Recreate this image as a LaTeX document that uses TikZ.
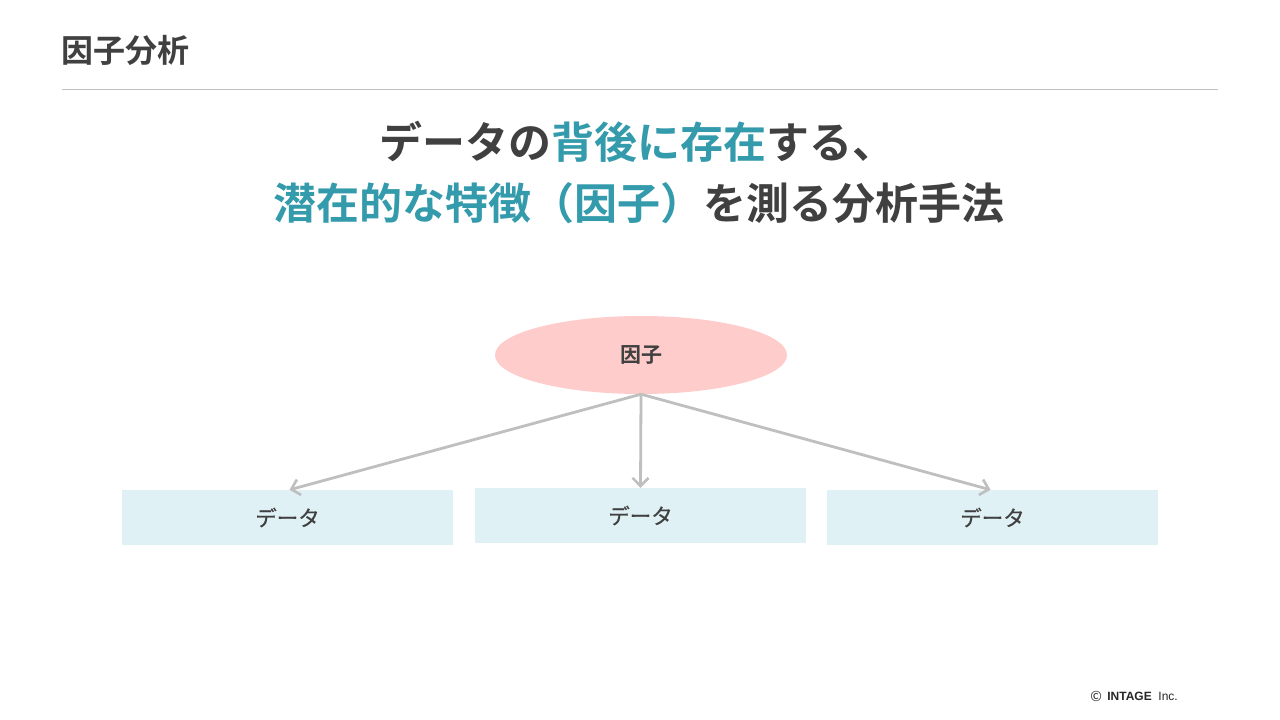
\documentclass[tikz,border=0pt]{standalone}
\usepackage{fontspec}
\setmainfont{Liberation Sans}
\newfontfamily\cjk{Noto Sans CJK JP}[BoldFont={Noto Sans CJK JP Bold}]
\newfontfamily\cjkmed{Noto Sans CJK JP}[FakeBold=0.6]
\usetikzlibrary{shapes.geometric,arrows.meta}
\definecolor{darktext}{HTML}{404040}
\definecolor{teal}{HTML}{339BAB}
\definecolor{rulegray}{HTML}{BFBFBF}
\definecolor{pinkfill}{HTML}{FFCCCC}
\definecolor{bluefill}{HTML}{DFF1F5}
\tikzset{
  databox/.style={rectangle, fill=bluefill, minimum width=331pt, minimum height=55pt, inner sep=0pt, font=\cjkmed\fontsize{21.5}{26}\selectfont, text=darktext},
  factor/.style={ellipse, fill=pinkfill, minimum width=292pt, minimum height=78pt, inner sep=0pt, font=\cjk\bfseries\fontsize{21}{25}\selectfont, text=darktext},
  conn/.style={draw=rulegray, line width=2.8pt, -{Straight Barb[length=8pt,width=16pt,line width=2.6pt]}},
}
\begin{document}
\begin{tikzpicture}[x=1pt,y=-1pt]
\useasboundingbox (0,0) rectangle (1280,720);
\fill[white] (0,0) rectangle (1280,720);
% title
\node[anchor=west, inner sep=0pt, font=\cjk\bfseries\fontsize{32}{38}\selectfont, text=darktext] (title) at (61,50) {因子分析};
\coordinate (ruleL) at (62,89);
\coordinate (ruleR) at (1218,89);
\draw[rulegray, line width=1pt] (ruleL) -- (ruleR);
% headline
\node[inner sep=0pt, font=\cjk\bfseries\fontsize{43}{50}\selectfont, text=darktext] (head1) at (637,142) {データの\textcolor{teal}{背後に存在}する、};
\node[inner sep=0pt, font=\cjk\bfseries\fontsize{43}{50}\selectfont, text=darktext] (head2) at (639,203) {\textcolor{teal}{潜在的な特徴（因子）}を測る分析手法};
% diagram
\node[factor] (f) at (641,355) {因子};
\node[databox] (d1) at (287.5,517.5) {データ};
\node[databox] (d2) at (640.5,515.5) {データ};
\node[databox] (d3) at (992.5,517.5) {データ};
\draw[conn] (f.south) -- ([xshift=2pt]d1.north);
\draw[conn] (f.south) -- (d2.north);
\draw[conn] (f.south) -- ([xshift=-2pt]d3.north);
% footer
\node[anchor=east, inner sep=0pt, font=\fontsize{12}{14}\selectfont, text=black!85] (copy) at (1178,696) {\raisebox{-1pt}{\cjk\fontsize{14}{16}\selectfont ©}\, \textbf{INTAGE}\ \ Inc.};
\end{tikzpicture}
\end{document}
